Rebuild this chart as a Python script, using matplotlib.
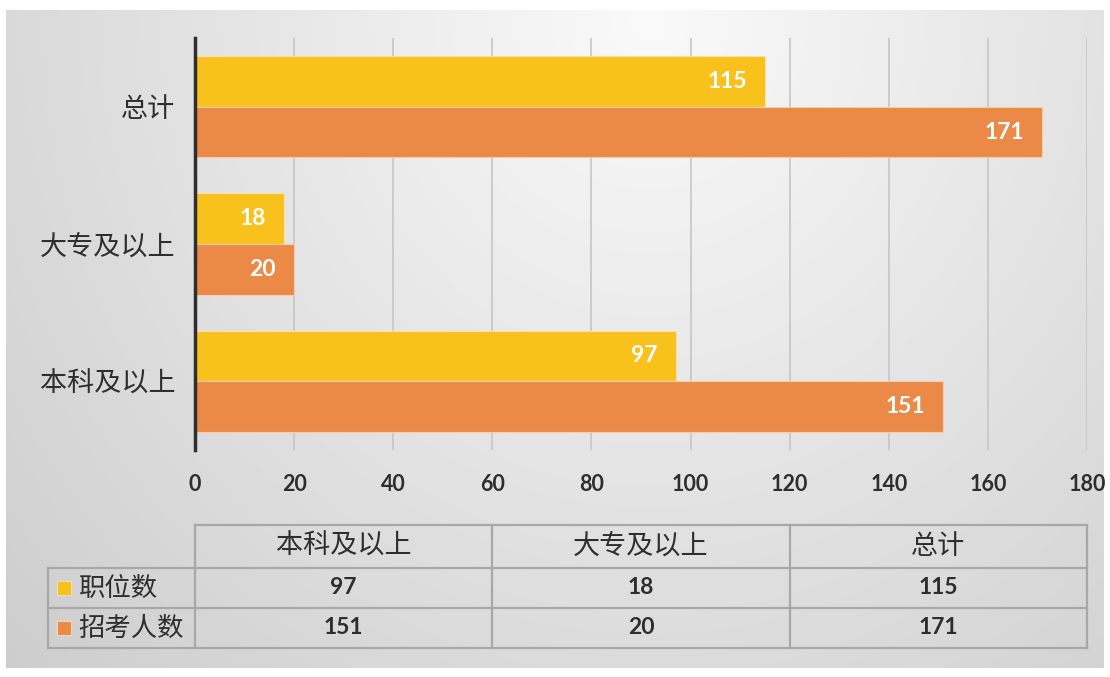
import numpy as np
import matplotlib
matplotlib.use("Agg")
import matplotlib.pyplot as plt
from matplotlib.patches import Rectangle

plt.rcParams['font.family'] = ['Noto Sans CJK SC', 'DejaVu Sans']

# ---- data ----
categories = ["本科及以上", "大专及以上", "总计"]
series_names = ["职位数", "招考人数"]
positions = [97, 18, 115]
applicants = [151, 20, 171]
xticks = [0, 20, 40, 60, 80, 100, 120, 140, 160, 180]

YELLOW = "#F8C11C"
ORANGE = "#EB8946"
TXT = "#2E2E2E"
NUMFONT = ['Lato', 'DejaVu Sans']

W, H = 1110, 677
fig = plt.figure(figsize=(W / 100, H / 100), dpi=100)
fig.patch.set_facecolor("white")

# ---- gradient background ----
bx0, by0, bx1, by1 = 6, 10, 1104, 668
bg = fig.add_axes([bx0 / W, 1 - by1 / H, (bx1 - bx0) / W, (by1 - by0) / H], zorder=-10)
xs = np.linspace(bx0, bx1, 400)
ys = np.linspace(by0, by1, 300)
X, Y = np.meshgrid(xs, ys)
r = np.sqrt(((X - 650) / 650) ** 2 + ((Y - 20) / 700) ** 2)
v = np.clip(250 - 33 * r, 200, 252) / 255.0
img = np.dstack([v, v, v])
bg.imshow(img, aspect="auto", extent=[0, 1, 0, 1], origin="upper")
bg.set_axis_off()

# ---- main bar chart ----
ax_l, ax_r, ax_t, ax_b = 195, 1087, 38, 450
ax = fig.add_axes([ax_l / W, 1 - ax_b / H, (ax_r - ax_l) / W, (ax_b - ax_t) / H])
ax.set_facecolor("none")

y = np.arange(len(categories))
h = 0.37
b1 = ax.barh(y + h / 2, positions, height=h, color=YELLOW, edgecolor="#FBE3A8", linewidth=0.8, zorder=3)
b2 = ax.barh(y - h / 2, applicants, height=h, color=ORANGE, edgecolor="#F6CDAE", linewidth=0.8, zorder=3)

for bars, vals in ((b1, positions), (b2, applicants)):
    for rect, val in zip(bars, vals):
        ax.annotate(str(val), (val, rect.get_y() + rect.get_height() / 2),
                    xytext=(-13, 0), textcoords="offset points", ha="right", va="center",
                    color="white", fontsize=16.5, fontweight="bold", family=NUMFONT, zorder=5)

ax.set_xlim(0, 180)
ax.set_ylim(-0.5, len(categories) - 0.5)
ax.set_xticks(xticks)
ax.set_xticklabels([str(t) for t in xticks], fontsize=15.5, fontweight="bold", color=TXT, family=NUMFONT)
ax.set_yticks(y)
ax.set_yticklabels(categories, fontsize=19.5, color=TXT)
ax.tick_params(axis="x", length=0, pad=17)
ax.tick_params(axis="y", length=0, pad=14)
ax.grid(axis="x", color="#C6C6C6", linewidth=1.2, zorder=0)
for s in ("top", "right", "bottom"):
    ax.spines[s].set_visible(False)
ax.spines["left"].set_color("#2E2E2E")
ax.spines["left"].set_linewidth(2.5)
ax.spines["left"].set_zorder(4)

# ---- data table ----
ov = fig.add_axes([0, 0, 1, 1], zorder=2)
ov.set_xlim(0, W)
ov.set_ylim(H, 0)
ov.set_axis_off()
ov.patch.set_alpha(0)

px_per = (ax_r - ax_l) / 180.0
col_edges = [ax_l + px_per * 60 * i for i in range(4)]
lab_left = 48
row_edges = [525, 568, 608, 648]
LC = "#A8A8A8"
LW = 1.6

ov.plot([col_edges[0], col_edges[-1]], [row_edges[0]] * 2, color=LC, lw=LW)
for ry in row_edges[1:]:
    ov.plot([lab_left, col_edges[-1]], [ry] * 2, color=LC, lw=LW)
ov.plot([lab_left, lab_left], [row_edges[1], row_edges[-1]], color=LC, lw=LW)
for cx in col_edges:
    ov.plot([cx, cx], [row_edges[0], row_edges[-1]], color=LC, lw=LW)

for i, cat in enumerate(categories):
    cx = (col_edges[i] + col_edges[i + 1]) / 2
    ov.text(cx, (row_edges[0] + row_edges[1]) / 2, cat, ha="center", va="center",
            fontsize=19.5, color=TXT)

rows = [positions, applicants]
colors = [YELLOW, ORANGE]
for j, (name, vals, c) in enumerate(zip(series_names, rows, colors)):
    cy = (row_edges[j + 1] + row_edges[j + 2]) / 2
    ov.add_patch(Rectangle((57, cy - 7), 14, 14, facecolor=c, edgecolor="#F3E1C8", lw=0.6))
    ov.text(78, cy, name, ha="left", va="center", fontsize=19, color=TXT)
    for i, val in enumerate(vals):
        cx = (col_edges[i] + col_edges[i + 1]) / 2
        ov.text(cx, cy, str(val), ha="center", va="center", fontsize=16.5,
                fontweight="bold", color=TXT, family=NUMFONT)

fig.savefig("out.png", dpi=100, facecolor=fig.get_facecolor())
